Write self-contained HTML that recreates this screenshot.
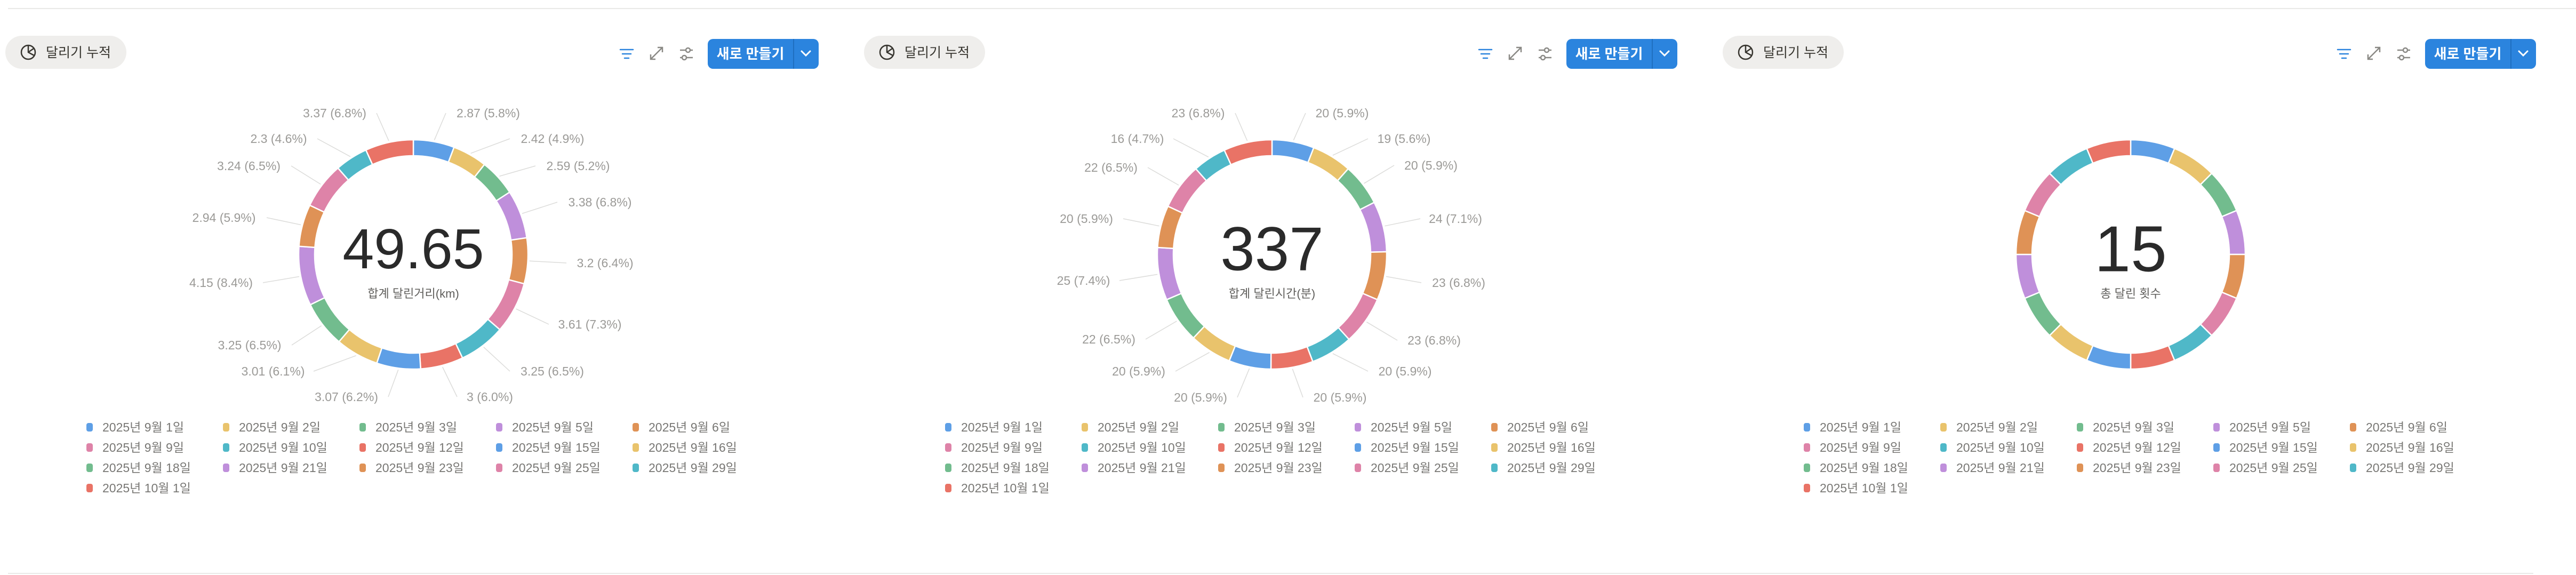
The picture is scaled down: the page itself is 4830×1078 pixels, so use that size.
<!DOCTYPE html>
<html><head><meta charset="utf-8"><style>
html,body{margin:0;padding:0;background:#fff;width:4830px;height:1078px;overflow:hidden}
svg text{font-family:"Liberation Sans","Noto Sans CJK KR",sans-serif}
</style></head><body>
<svg id="s" width="4830" height="1078" xmlns="http://www.w3.org/2000/svg"></svg>
<script>
const S=document.getElementById('s');let h='';
const C=['#5e9fe6','#e9c36c','#72bc8e','#bf8fdb','#df9256','#de83a8','#4fb8c8','#e97366'];
const dates=['2025년 9월 1일','2025년 9월 2일','2025년 9월 3일','2025년 9월 5일','2025년 9월 6일','2025년 9월 9일','2025년 9월 10일','2025년 9월 12일','2025년 9월 15일','2025년 9월 16일','2025년 9월 18일','2025년 9월 21일','2025년 9월 23일','2025년 9월 25일','2025년 9월 29일','2025년 10월 1일'];
h+='<rect x="15" y="15" width="4815" height="2" fill="#e9e9e7"/><rect x="15" y="1074" width="4735" height="2" fill="#e9e9e7"/>';
const P=[
{vals:[2.87,2.42,2.59,3.38,3.2,3.61,3.25,3,3.07,3.01,3.25,4.15,2.94,3.24,2.3,3.37],big:'49.65',bs:106,sub:'합계 달린거리(km)',
lab:[['2.87 (5.8%)',850,981,212],['2.42 (4.9%)',970,1102,260],['2.59 (5.2%)',1018,1150,311],['3.38 (6.8%)',1059,1191,379],['3.2 (6.4%)',1076,1193,493],['3.61 (7.3%)',1043,1169,608],['3.25 (6.5%)',970,1101,696],['3 (6.0%)',871,966,744],['3.07 (6.2%)',585,714,744],['3.01 (6.1%)',450,574,696],['3.25 (6.5%)',403,533,647],['4.15 (8.4%)',350,479,530],['2.94 (5.9%)',354,486,408],['3.24 (6.5%)',401,532,311],['2.3 (4.6%)',464,581,260],['3.37 (6.8%)',563,692,212]]},
{vals:[20,19,20,24,23,23,20,20,20,20,22,25,20,22,16,23],big:'337',bs:116,sub:'합계 달린시간(분)',
lab:[['20 (5.9%)',852,961,212],['19 (5.6%)',969,1076,260],['20 (5.9%)',1018,1128,310],['24 (7.1%)',1067,1171,410],['23 (6.8%)',1069,1181,530],['23 (6.8%)',1024,1134,638],['20 (5.9%)',969,1080,696],['20 (5.9%)',847,958,745],['20 (5.9%)',586,696,745],['20 (5.9%)',470,580,696],['22 (6.5%)',414,524,636],['25 (7.4%)',368,475,526],['20 (5.9%)',372,482,410],['22 (6.5%)',418,528,314],['16 (4.7%)',469,576,260],['23 (6.8%)',581,692,212]]},
{vals:Array(16).fill(1),big:'15',bs:122,sub:'총 달린 횟수',lab:[]}];
P.forEach((p,pi)=>{
 const ox=pi*1610,cx=ox+775,cy=477,R=215,r=185;
 h+=`<rect x="${ox+10}" y="67" width="227" height="62" rx="31" fill="#efeeec"/>`;
 h+=`<circle cx="${ox+53}" cy="98" r="13" fill="none" stroke="#37352f" stroke-width="2.5"/><path d="M${ox+53} 85 V98 L${ox+64} 104 M${ox+53} 98 L${ox+63} 91" fill="none" stroke="#37352f" stroke-width="2.5"/>`;
 h+=`<text x="${ox+86}" y="107" font-size="25" fill="#37352f">달리기 누적</text>`;
 const fx=ox+1175;
 h+=`<g stroke="#2b84de" stroke-width="2.5" stroke-linecap="round"><line x1="${fx-12}" y1="93" x2="${fx+12}" y2="93"/><line x1="${fx-8}" y1="101" x2="${fx+8}" y2="101"/><line x1="${fx-4}" y1="109" x2="${fx+4}" y2="109"/></g>`;
 const ex=ox+1231;
 h+=`<g stroke="#8a8985" stroke-width="2.5" fill="none"><path d="M${ex-11} ${111} L${ex+11} 89 M${ex+2} 89 H${ex+11} V98 M${ex-11} 102 V111 H${ex-2}"/></g>`;
 const sx=ox+1287;
 h+=`<g stroke="#8a8985" stroke-width="2.5" fill="#fff"><line x1="${sx-12}" y1="94" x2="${sx+12}" y2="94"/><line x1="${sx-12}" y1="108" x2="${sx+12}" y2="108"/><circle cx="${sx+3}" cy="94" r="4"/><circle cx="${sx-4}" cy="108" r="4"/></g>`;
 h+=`<rect x="${ox+1327}" y="73" width="208" height="56" rx="10" fill="#2b84de"/><rect x="${ox+1487}" y="73" width="2" height="56" fill="#1f6fc0"/>`;
 h+=`<text x="${ox+1407}" y="110" font-size="26" fill="#fff" text-anchor="middle" font-weight="bold">새로 만들기</text>`;
 h+=`<path d="M${ox+1503} 96 L${ox+1511} 104 L${ox+1519} 96" fill="none" stroke="#fff" stroke-width="3" stroke-linecap="round"/>`;
 const tot=p.vals.reduce((a,b)=>a+b,0);let acc=0;
 p.vals.forEach((v,i)=>{
  const a0=acc/tot*2*Math.PI-Math.PI/2,a1=(acc+v)/tot*2*Math.PI-Math.PI/2,am=(a0+a1)/2;acc+=v;
  const pt=(rr,a)=>`${(cx+rr*Math.cos(a)).toFixed(2)} ${(cy+rr*Math.sin(a)).toFixed(2)}`;
  const lg=(a1-a0)>Math.PI?1:0;
  h+=`<path d="M${pt(R,a0)} A${R} ${R} 0 ${lg} 1 ${pt(R,a1)} L${pt(r,a1)} A${r} ${r} 0 ${lg} 0 ${pt(r,a0)}Z" fill="${C[i%8]}" stroke="#fff" stroke-width="2.5"/>`;
  const L=p.lab[i];
  if(L){const left=(L[1]+L[2])/2<775;const exx=ox+(left?L[2]+14:L[1]-14);
   h+=`<line x1="${(cx+218*Math.cos(am)).toFixed(1)}" y1="${(cy+218*Math.sin(am)).toFixed(1)}" x2="${exx}" y2="${L[3]}" stroke="#dcdcda" stroke-width="1.5"/>`;
   h+=`<text x="${ox+(L[1]+L[2])/2}" y="${L[3]+8}" font-size="23" fill="#9b9a97" text-anchor="middle">${L[0]}</text>`;}
 });
 h+=`<text x="${cx}" y="${465+p.bs*0.358}" font-size="${p.bs}" fill="#2a2a2a" text-anchor="middle">${p.big}</text>`;
 h+=`<text x="${cx}" y="${550+8}" font-size="22" fill="#5f5e5b" text-anchor="middle">${p.sub}</text>`;
 dates.forEach((d,i)=>{const col=i%5,row=Math.floor(i/5);const lx=ox+162+col*256,ly=801+row*38;
  h+=`<rect x="${lx}" y="${ly-8}" width="12" height="16" rx="4" fill="${C[i%8]}"/>`;
  h+=`<text x="${lx+30}" y="${ly+8}" font-size="23" fill="#787774">${d}</text>`;});
});
S.innerHTML=h;
</script>
</body></html>
